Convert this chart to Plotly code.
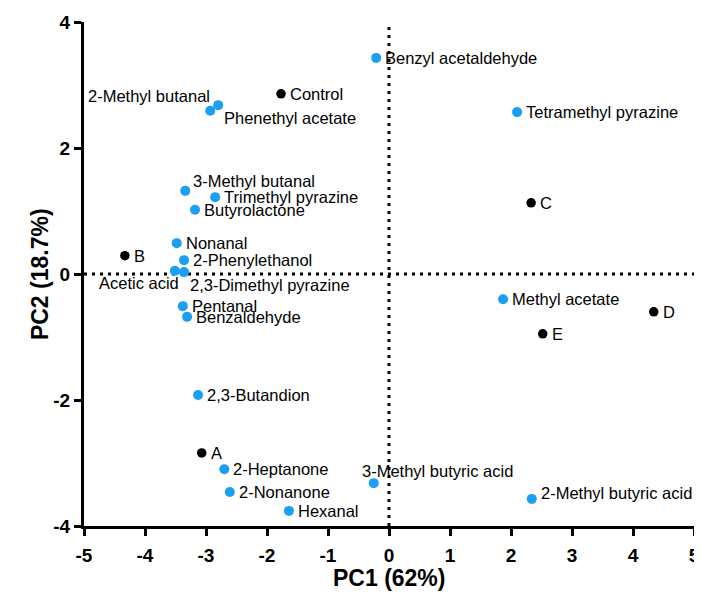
import plotly.graph_objects as go

# Compounds (blue points)
compounds = ["Benzyl acetaldehyde", "2-Methyl butanal", "Phenethyl acetate", "Tetramethyl pyrazine",
             "3-Methyl butanal", "Trimethyl pyrazine", "Butyrolactone", "Nonanal", "2-Phenylethanol",
             "Acetic acid", "2,3-Dimethyl pyrazine", "Pentanal", "Benzaldehyde", "Methyl acetate",
             "2,3-Butandion", "2-Heptanone", "2-Nonanone", "Hexanal", "3-Methyl butyric acid",
             "2-Methyl butyric acid"]
compound_pc1 = [-0.21, -2.80, -2.93, 2.10, -3.34, -2.85, -3.18, -3.48, -3.36, -3.51, -3.36, -3.38, -3.31,
                1.87, -3.13, -2.70, -2.61, -1.64, -0.25, 2.34]
compound_pc2 = [3.43, 2.68, 2.59, 2.57, 1.32, 1.22, 1.02, 0.49, 0.22, 0.05, 0.03, -0.51, -0.68,
                -0.40, -1.92, -3.10, -3.46, -3.76, -3.32, -3.57]

# Samples (black points)
samples = ["Control", "B", "C", "D", "E", "A"]
sample_pc1 = [-1.77, -4.33, 2.33, 4.34, 2.52, -3.07]
sample_pc2 = [2.86, 0.29, 1.13, -0.60, -0.95, -2.84]

x_ticks = [-5, -4, -3, -2, -1, 0, 1, 2, 3, 4, 5]
y_ticks = [-4, -2, 0, 2, 4]

# label placement (anchor, x shift px, y shift px) -- styling only
compound_label_style = {
    "2-Methyl butanal": ("right", -6, 9),
    "Phenethyl acetate": ("left", 12, -7),
    "3-Methyl butanal": ("left", 6, 10),
    "Acetic acid": ("right", 6, -12),
    "2,3-Dimethyl pyrazine": ("left", 4, -13),
    "3-Methyl butyric acid": ("left", -14, 12),
    "2-Methyl butyric acid": ("left", 7, 6),
}

font_family = "Liberation Sans, Arial, sans-serif"
label_font = dict(family=font_family, size=16.5, color="black")

fig = go.Figure()
fig.add_trace(go.Scatter(
    x=compound_pc1, y=compound_pc2, mode="markers",
    marker=dict(color="#1a9ff2", size=10), cliponaxis=False, showlegend=False))
fig.add_trace(go.Scatter(
    x=sample_pc1, y=sample_pc2, mode="markers",
    marker=dict(color="black", size=9.5), cliponaxis=False, showlegend=False))

for name, x, y in zip(compounds, compound_pc1, compound_pc2):
    anchor, dx, dy = compound_label_style.get(name, ("left", 7, 0))
    fig.add_annotation(x=x, y=y, xref="x", yref="y", text=name, showarrow=False,
                       xanchor=anchor, yanchor="middle", xshift=dx, yshift=dy, font=label_font)
for name, x, y in zip(samples, sample_pc1, sample_pc2):
    fig.add_annotation(x=x, y=y, xref="x", yref="y", text=name, showarrow=False,
                       xanchor="left", yanchor="middle", xshift=7, yshift=0, font=label_font)

# dotted reference lines
fig.add_shape(type="line", x0=0, x1=0, y0=-4, y1=4, xref="x", yref="y",
              line=dict(color="black", width=3, dash="3px,5px"), layer="below")
fig.add_shape(type="line", x0=-5, x1=5, y0=0, y1=0, xref="x", yref="y",
              line=dict(color="black", width=3, dash="3px,5px"), layer="below")

# axis titles
fig.add_annotation(x=0.5, y=-0.103, xref="paper", yref="paper", text="<b>PC1 (62%)</b>",
                   showarrow=False, xanchor="center", yanchor="middle",
                   font=dict(family=font_family, size=23, color="black"))
fig.add_annotation(x=-0.072, y=0.5, xref="paper", yref="paper", text="<b>PC2 (18.7%)</b>",
                   showarrow=False, xanchor="center", yanchor="middle", textangle=-90,
                   font=dict(family=font_family, size=23, color="black"))

# page body has an 8px margin, so the figure is sized to fit the window
fig.update_layout(
    width=694, height=585,
    margin=dict(l=76, r=8, t=14, b=67, autoexpand=False),
    paper_bgcolor="white", plot_bgcolor="white",
    font=dict(family=font_family, color="black"),
)
axis_common = dict(
    showline=True, linecolor="black", linewidth=3, ticks="outside", ticklen=7, tickwidth=3,
    tickcolor="black", showgrid=False, zeroline=False, automargin=False,
    tickfont=dict(family=font_family, size=19, color="black", weight="bold"),
)
fig.update_xaxes(range=[-5, 5], tickvals=x_ticks, ticktext=[str(v) for v in x_ticks],
                 ticklabelstandoff=3, **axis_common)
fig.update_yaxes(range=[-4, 4], tickvals=y_ticks, ticktext=[str(v) for v in y_ticks], **axis_common)

fig.write_html("out.html")
